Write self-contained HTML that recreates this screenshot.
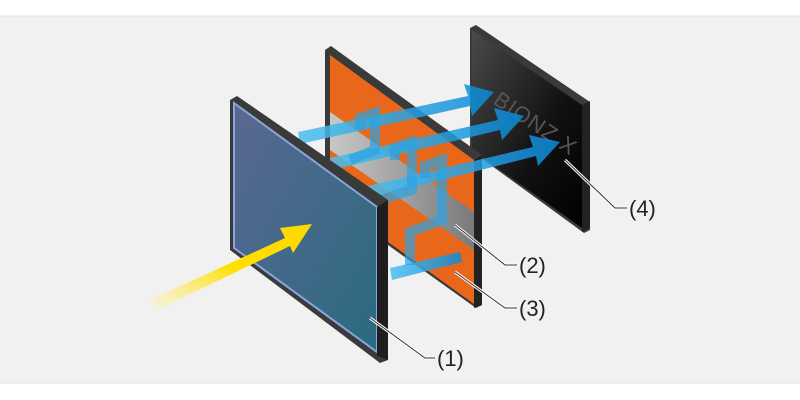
<!DOCTYPE html>
<html><head><meta charset="utf-8"><style>
html,body{margin:0;padding:0;background:#fff;}
svg{display:block;}
text{font-family:"Liberation Sans",sans-serif;font-size:22px;fill:#222;}
</style></head><body>
<svg width="800" height="400" viewBox="0 0 800 400" xmlns="http://www.w3.org/2000/svg">
<defs>
<linearGradient id="blueface" x1="0" y1="0" x2="1" y2="1">
<stop offset="0" stop-color="#5a6892"/><stop offset="1" stop-color="#2a6a80"/></linearGradient>
<linearGradient id="black" x1="0" y1="0" x2="1" y2="1">
<stop offset="0" stop-color="#4a4a4a"/><stop offset="0.6" stop-color="#111"/><stop offset="1" stop-color="#000"/></linearGradient>
<linearGradient id="yel" x1="0" y1="1" x2="1" y2="0">
<stop offset="0" stop-color="#fff4b0" stop-opacity="0.3"/><stop offset="0.5" stop-color="#ffe000"/><stop offset="1" stop-color="#ffd800"/></linearGradient>
<linearGradient id="gray" x1="0" y1="0" x2="1" y2="0">
<stop offset="0" stop-color="#c8c8c8"/><stop offset="1" stop-color="#7a7a7a"/></linearGradient>
<linearGradient id="bl" x1="0" y1="0" x2="1" y2="0">
<stop offset="0" stop-color="#4cc0f0"/><stop offset="1" stop-color="#0a8ad8"/></linearGradient>
</defs>
<rect x="0" y="16" width="800" height="367" fill="#f1f1f1"/>
<line x1="0" y1="16" x2="800" y2="16" stroke="#e2e2dc"/>
<line x1="0" y1="383" x2="800" y2="383" stroke="#e2e2e2"/>

<!-- panel 3 black -->
<polygon points="470,28 476,25 590,102 590,230 584,233 470,150" fill="#3a3a3a"/>
<polygon points="472,30 582,105 582,228 472,150" fill="url(#black)"/>
<polygon points="582,105 590,101 590,228 582,232" fill="#222"/>
<text x="492" y="103" transform="rotate(34 492 103)" style="font-size:22px;fill:#555;letter-spacing:1px">BIONZ X</text>

<!-- panel 2 orange -->
<polygon points="325,50 331,46 482,155 482,305 476,308 325,200" fill="#3a3a3a"/>
<polygon points="330,55 474,160 474,304 330,200" fill="#e8671a"/>
<polygon points="330,112 474,212 474,250 330,150" fill="url(#gray)"/>
<polygon points="474,160 482,155 482,305 474,308" fill="#222"/>

<!-- blue arrows -->
<g fill="url(#bl)" opacity="0.85">
<polygon points="298,132 468,96 464,84 494,92 472,116 470,106 300,144"/>
<polygon points="330,158 498,120 494,108 524,116 502,140 500,130 332,170"/>
<polygon points="360,188 533,147 529,135 560,142 538,166 536,156 362,200"/>
<polygon points="390,268 460,252 462,262 392,280"/>
</g>
<g fill="none" stroke="#2aa3e3" stroke-width="10" opacity="0.7">
<polyline points="360,130 360,118 375,113 375,150 350,160"/>
<polyline points="395,160 395,148 412,142 412,190 380,200"/>
<polyline points="425,178 425,166 442,160 442,220 410,232 410,265"/>
</g>

<!-- panel 1 front -->
<polygon points="230,100 237,96 388,200 388,360 380,363 230,250" fill="#3a3a3a"/>
<polygon points="234,103 377,207 377,352 234,248" fill="url(#blueface)" stroke="#8aa6d8" stroke-width="2"/>
<polygon points="377,207 388,200 388,360 377,356" fill="#1e1e1e"/>

<!-- yellow arrow -->
<polygon points="150,300 285,238 280,228 312,224 293,253 290,246 155,311" fill="url(#yel)"/>

<!-- leaders -->
<g stroke="#fff" stroke-width="3" fill="none">
<polyline points="370,318 425,358 435,358"/>
<polyline points="455,225 505,265 517,265"/>
<polyline points="455,272 505,308 517,308"/>
<polyline points="565,160 615,208 627,208"/>
</g>
<g stroke="#333" stroke-width="1" fill="none">
<polyline points="370,318 425,358 435,358"/>
<polyline points="455,225 505,265 517,265"/>
<polyline points="455,272 505,308 517,308"/>
<polyline points="565,160 615,208 627,208"/>
</g>
<text x="437" y="366">(1)</text>
<text x="519" y="273">(2)</text>
<text x="519" y="316">(3)</text>
<text x="629" y="216">(4)</text>
</svg>
</body></html>
